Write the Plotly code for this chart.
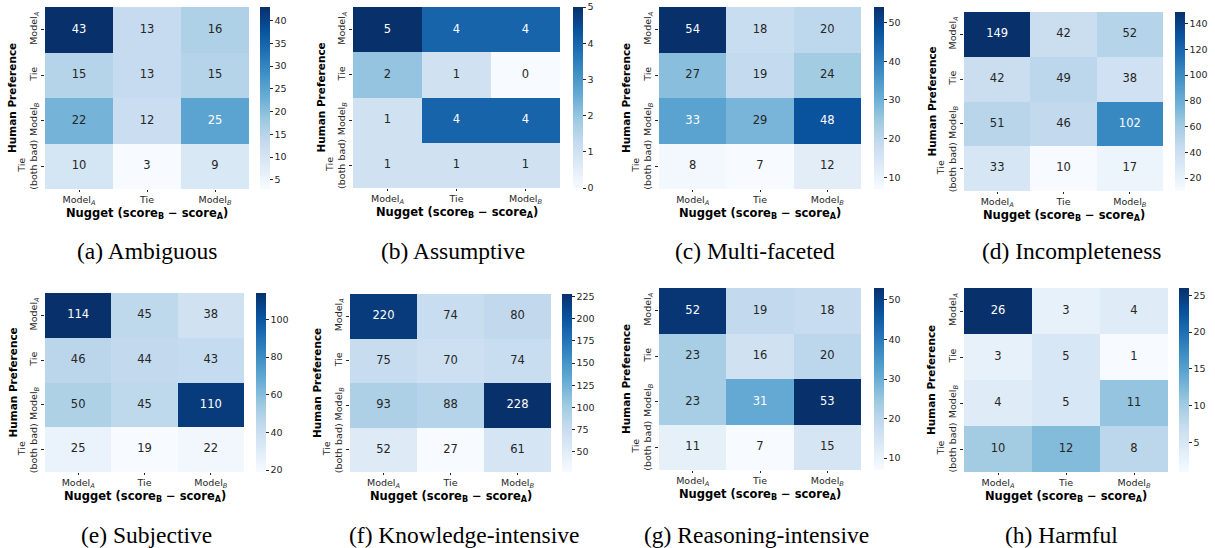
import plotly.graph_objects as go
from plotly.colors import sample_colorscale

# ---- data: rows = human preference, columns = Nugget verdict ----
row_labels = ["Model<sub><i>A</i></sub>", "Tie", "Model<sub><i>B</i></sub>", "Tie<br>(both bad)"]
col_labels = ["Model<sub><i>A</i></sub>", "Tie", "Model<sub><i>B</i></sub>"]

captions = ["(a) Ambiguous", "(b) Assumptive", "(c) Multi-faceted", "(d) Incompleteness",
            "(e) Subjective", "(f) Knowledge-intensive", "(g) Reasoning-intensive", "(h) Harmful"]

ambiguous = [[43, 13, 16], [15, 13, 15], [22, 12, 25], [10, 3, 9]]
assumptive = [[5, 4, 4], [2, 1, 0], [1, 4, 4], [1, 1, 1]]
multi_faceted = [[54, 18, 20], [27, 19, 24], [33, 29, 48], [8, 7, 12]]
incompleteness = [[149, 42, 52], [42, 49, 38], [51, 46, 102], [33, 10, 17]]
subjective = [[114, 45, 38], [46, 44, 43], [50, 45, 110], [25, 19, 22]]
knowledge_intensive = [[220, 74, 80], [75, 70, 74], [93, 88, 228], [52, 27, 61]]
reasoning_intensive = [[52, 19, 18], [23, 16, 20], [23, 31, 53], [11, 7, 15]]
harmful = [[26, 3, 4], [3, 5, 1], [4, 5, 11], [10, 12, 8]]

matrices = [ambiguous, assumptive, multi_faceted, incompleteness,
            subjective, knowledge_intensive, reasoning_intensive, harmful]

# colorbar tick spacing per panel
cbar_dtick = [5, 1, 10, 20, 20, 25, 10, 5]

# ---- layout geometry (pixels) ----
W, H = 1215, 548
# heatmap box: left, right, top, bottom ; colorbar left
boxes = [
    (45, 249, 7, 189, 260),
    (353, 560, 7, 188, 573),
    (659, 861, 7, 189, 874),
    (964, 1163, 12, 191, 1175),
    (45, 244, 293, 472, 256),
    (350, 551, 294, 472, 562),
    (659, 861, 288, 470, 874),
    (964, 1168, 288, 472, 1179),
]
caption_pos = [(147, 251), (453, 251), (755, 251), (1071, 251),
               (146, 535), (464, 535), (756, 535), (1061, 535)]

TXT = "#262626"
FONT = "DejaVu Sans"


def px_x(v):
    return v / W


def px_y(v):
    return 1 - v / H


def text_color(val, vmin, vmax):
    t = 0.0 if vmax == vmin else (val - vmin) / (vmax - vmin)
    rgb = sample_colorscale("Blues", [t])[0]
    r, g, b = [float(c) / 255 for c in rgb[rgb.index("(") + 1:-1].split(",")]

    def lin(c):
        return c / 12.92 if c <= 0.03928 else ((c + 0.055) / 1.055) ** 2.4

    lum = 0.2126 * lin(r) + 0.7152 * lin(g) + 0.0722 * lin(b)
    return TXT if lum > 0.408 else "white"


fig = go.Figure()
layout = dict(width=W, height=H, margin=dict(l=0, r=0, t=0, b=0),
              paper_bgcolor="white", plot_bgcolor="white", showlegend=False,
              font=dict(family=FONT, color=TXT))
annotations = []

for i, (z, box) in enumerate(zip(matrices, boxes)):
    n = i + 1
    xa = "x" if n == 1 else f"x{n}"
    ya = "y" if n == 1 else f"y{n}"
    left, right, top, bottom, cb_left = box
    flat = [v for row in z for v in row]
    vmin, vmax = min(flat), max(flat)

    fig.add_trace(go.Heatmap(
        z=z, x=[0, 1, 2], y=[0, 1, 2, 3], xaxis=xa, yaxis=ya,
        colorscale="Blues", zmin=vmin, zmax=vmax, xgap=0, ygap=0,
        hoverinfo="skip",
        colorbar=dict(
            x=px_x(cb_left), xanchor="left", thickness=9.5, thicknessmode="pixels",
            y=px_y((top + bottom) / 2), yanchor="middle",
            len=(bottom - top) / H, lenmode="fraction",
            outlinewidth=0, ticks="outside", ticklen=3, tickwidth=0.8, tickcolor=TXT,
            tick0=0, dtick=cbar_dtick[i],
            tickfont=dict(family=FONT, size=9.5, color=TXT), xpad=0, ypad=0,
        ),
    ))

    xs, ys, txt, cols = [], [], [], []
    for r, row in enumerate(z):
        for c, v in enumerate(row):
            xs.append(c)
            ys.append(r)
            txt.append(str(v))
            cols.append(text_color(v, vmin, vmax))
    fig.add_trace(go.Scatter(
        x=xs, y=ys, text=txt, mode="text", xaxis=xa, yaxis=ya,
        textfont=dict(family=FONT, size=11.5, color=cols), hoverinfo="skip",
    ))

    xkey = "xaxis" if n == 1 else f"xaxis{n}"
    ykey = "yaxis" if n == 1 else f"yaxis{n}"
    layout[xkey] = dict(
        domain=[px_x(left), px_x(right)], anchor=ya, range=[-0.5, 2.5],
        tickvals=[0, 1, 2], ticktext=col_labels, ticks="outside", ticklen=2,
        tickwidth=0.8, tickcolor=TXT, showgrid=False, zeroline=False, showline=False,
        tickfont=dict(family=FONT, size=9.5, color=TXT), fixedrange=True,
    )
    layout[ykey] = dict(
        domain=[px_y(bottom), px_y(top)], anchor=xa, range=[3.5, -0.5],
        tickvals=[0, 1, 2, 3], ticktext=row_labels, ticks="outside", ticklen=3,
        tickwidth=0.8, tickcolor=TXT, showgrid=False, zeroline=False, showline=False,
        tickangle=-90, tickfont=dict(family=FONT, size=9.5, color=TXT), fixedrange=True,
    )

    # axis titles
    annotations.append(dict(
        text="<b>Human Preference</b>", textangle=-90, showarrow=False,
        xref="paper", yref="paper", x=px_x(left - 33), y=px_y((top + bottom) / 2),
        xanchor="center", yanchor="middle",
        font=dict(family=FONT, size=10.5, color="black"),
    ))
    annotations.append(dict(
        text="<b>Nugget (score<sub>B</sub> − score<sub>A</sub>)</b>", showarrow=False,
        xref="paper", yref="paper", x=px_x((left + right) / 2), y=px_y(bottom + 24.5),
        xanchor="center", yanchor="middle",
        font=dict(family=FONT, size=11.5, color="black"),
    ))
    cx, cy = caption_pos[i]
    annotations.append(dict(
        text=captions[i], showarrow=False, xref="paper", yref="paper",
        x=px_x(cx), y=px_y(cy), xanchor="center", yanchor="middle",
        font=dict(family="Liberation Serif", size=23.5, color="black"),
    ))

layout["annotations"] = annotations
fig.update_layout(**layout)
fig.write_html("out.html")
